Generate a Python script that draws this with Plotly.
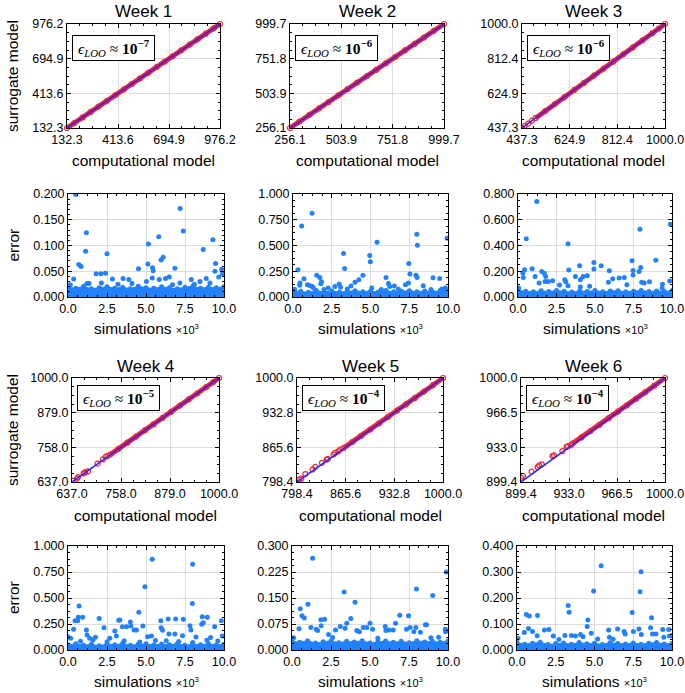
import plotly.graph_objects as go

W, H = 685, 693

# ---------------- data ----------------
weeks = ["Week 1", "Week 2", "Week 3", "Week 4", "Week 5", "Week 6"]
eps_exponents = ["−7", "−6", "−6", "−5", "−4", "−4"]

model_ticks_w1 = ["132.3", "413.6", "694.9", "976.2"]
model_ticks_w2 = ["256.1", "503.9", "751.8", "999.7"]
model_ticks_w3 = ["437.3", "624.9", "812.4", "1000.0"]
model_ticks_w4 = ["637.0", "758.0", "879.0", "1000.0"]
model_ticks_w5 = ["798.4", "865.6", "932.8", "1000.0"]
model_ticks_w6 = ["899.4", "933.0", "966.5", "1000.0"]

# dense part of computational vs surrogate model values
comp_dense_w1 = [132.3, 171.5, 218.0, 262.4, 305.9, 351.2, 398.7, 446.0, 489.3, 533.8, 580.5, 627.1, 671.9, 716.4, 762.0, 808.6, 851.3, 897.5, 940.8, 976.2]
surr_dense_w1 = [132.3, 171.6, 217.9, 262.4, 306.0, 351.1, 398.7, 446.1, 489.3, 533.7, 580.5, 627.2, 671.9, 716.3, 762.0, 808.6, 851.4, 897.5, 940.7, 976.2]
comp_dense_w2 = [256.1, 301.4, 349.7, 396.2, 441.8, 489.5, 534.0, 580.6, 627.3, 672.8, 719.1, 764.5, 811.0, 857.6, 903.2, 950.7, 999.7]
surr_dense_w2 = [256.1, 301.5, 349.6, 396.2, 441.9, 489.4, 534.0, 580.7, 627.3, 672.7, 719.1, 764.6, 811.0, 857.5, 903.2, 950.8, 999.7]
comp_dense_w3 = [490.2, 528.6, 566.4, 604.9, 643.0, 681.7, 720.3, 758.5, 796.8, 835.4, 873.2, 911.9, 950.1, 975.6, 1000.0]
surr_dense_w3 = [490.5, 528.4, 566.6, 604.8, 643.1, 681.6, 720.4, 758.5, 796.7, 835.5, 873.2, 911.8, 950.2, 975.6, 1000.0]
comp_dense_w4 = [731.4, 752.0, 773.5, 795.1, 816.8, 838.2, 860.4, 881.9, 903.6, 925.0, 946.8, 968.1, 985.5, 1000.0]
surr_dense_w4 = [732.6, 752.9, 774.1, 795.6, 817.2, 838.5, 860.6, 882.0, 903.7, 925.1, 946.8, 968.1, 985.5, 1000.0]
comp_dense_w5 = [862.5, 874.8, 887.0, 899.6, 911.8, 924.3, 936.5, 948.9, 961.2, 973.6, 986.0, 1000.0]
surr_dense_w5 = [864.0, 875.9, 887.8, 900.2, 912.2, 924.6, 936.7, 949.0, 961.3, 973.7, 986.0, 1000.0]
comp_dense_w6 = [935.3, 941.6, 948.0, 954.3, 960.7, 967.1, 973.4, 979.8, 986.2, 992.5, 1000.0]
surr_dense_w6 = [936.5, 942.5, 948.7, 954.8, 961.1, 967.4, 973.6, 979.9, 986.3, 992.5, 1000.0]

# sparse (isolated) points at the low end
comp_sparse_w1 = []
surr_sparse_w1 = []
comp_sparse_w2 = []
surr_sparse_w2 = []
comp_sparse_w3 = [437.3, 447.5, 462.0, 476.8]
surr_sparse_w3 = [437.9, 448.6, 461.4, 477.5]
comp_sparse_w4 = [639.5, 649.3, 651.8, 665.7, 669.8, 676.4, 700.2, 713.4, 720.0, 725.0]
surr_sparse_w4 = [641.2, 648.9, 653.9, 667.4, 671.5, 673.8, 701.0, 716.0, 724.6, 728.3]
comp_sparse_w5 = [801.6, 804.4, 809.9, 819.9, 823.6, 832.8, 839.6, 841.0, 848.8, 851.0, 855.6, 858.0]
surr_sparse_w5 = [803.5, 804.8, 813.8, 822.7, 827.8, 835.5, 841.9, 843.2, 851.5, 854.7, 857.9, 861.1]
comp_sparse_w6 = [899.4, 900.8, 906.8, 911.0, 912.1, 914.0, 921.4, 922.5, 928.3, 931.3, 932.2, 934.1]
surr_sparse_w6 = [903.6, 905.2, 909.4, 913.9, 915.5, 916.4, 924.5, 925.1, 929.3, 933.5, 934.1, 934.8]

# error plots: y tick labels, x tick labels (simulations x 10^3)
err_ticks_w1 = ["0.000", "0.050", "0.100", "0.150", "0.200"]
err_ticks_w2 = ["0.000", "0.250", "0.500", "0.750", "1.000"]
err_ticks_w3 = ["0.000", "0.200", "0.400", "0.600", "0.800"]
err_ticks_w4 = ["0.000", "0.250", "0.500", "0.750", "1.000"]
err_ticks_w5 = ["0.000", "0.075", "0.150", "0.225", "0.300"]
err_ticks_w6 = ["0.000", "0.100", "0.200", "0.300", "0.400"]
sim_ticks = ["0.0", "2.5", "5.0", "7.5", "10.0"]

# upper envelope of the dense low-error band, read at these simulation counts (x 10^3)
band_x = [0.0, 0.5, 1.0, 1.5, 2.0, 2.5, 3.0, 3.5, 4.0, 4.5, 5.0, 5.5, 6.0, 6.5, 7.0, 7.5, 8.0, 8.5, 9.0, 9.5, 10.0]
band_top_w1 = [0.019, 0.017, 0.021, 0.016, 0.018, 0.020, 0.017, 0.019, 0.016, 0.021, 0.018, 0.017, 0.020, 0.018, 0.016, 0.019, 0.021, 0.017, 0.019, 0.018, 0.020]
band_top_w2 = [0.060, 0.055, 0.045, 0.062, 0.050, 0.058, 0.047, 0.055, 0.060, 0.052, 0.057, 0.048, 0.062, 0.050, 0.056, 0.060, 0.052, 0.058, 0.050, 0.062, 0.065]
band_top_w3 = [0.050, 0.045, 0.040, 0.048, 0.042, 0.050, 0.044, 0.038, 0.047, 0.043, 0.050, 0.041, 0.046, 0.049, 0.040, 0.045, 0.050, 0.043, 0.047, 0.042, 0.050]
band_top_w4 = [0.050, 0.060, 0.045, 0.055, 0.040, 0.058, 0.050, 0.062, 0.045, 0.055, 0.060, 0.048, 0.057, 0.050, 0.060, 0.045, 0.055, 0.050, 0.060, 0.048, 0.055]
band_top_w5 = [0.025, 0.022, 0.027, 0.020, 0.024, 0.026, 0.021, 0.025, 0.023, 0.027, 0.020, 0.024, 0.026, 0.022, 0.025, 0.021, 0.027, 0.023, 0.025, 0.022, 0.026]
band_top_w6 = [0.028, 0.022, 0.026, 0.030, 0.021, 0.025, 0.027, 0.022, 0.029, 0.024, 0.026, 0.021, 0.028, 0.025, 0.023, 0.027, 0.022, 0.026, 0.029, 0.023, 0.025]

# individual larger errors (x in 10^3 simulations)
err_x_w1 = [0.49, 0.36, 0.69, 0.84, 1.13, 1.18, 1.22, 1.35, 1.80, 2.10, 2.40, 2.50, 2.14, 2.85, 3.53, 3.90, 4.52, 5.12, 5.16, 5.03, 5.42, 5.46, 5.40, 5.82, 5.85, 5.97, 6.10, 6.25, 6.49, 6.85, 7.19, 7.39, 7.90, 8.67, 8.86, 9.29, 9.46, 9.42, 9.66, 9.85, 9.90, 8.46, 7.17, 0.15, 3.2, 4.1, 6.7, 8.1, 9.1]
err_y_w1 = [0.199, 0.035, 0.063, 0.059, 0.089, 0.125, 0.026, 0.026, 0.045, 0.045, 0.046, 0.084, 0.027, 0.035, 0.036, 0.034, 0.055, 0.064, 0.103, 0.030, 0.057, 0.051, 0.037, 0.117, 0.034, 0.072, 0.077, 0.036, 0.039, 0.056, 0.172, 0.128, 0.034, 0.092, 0.036, 0.111, 0.065, 0.050, 0.039, 0.054, 0.045, 0.030, 0.027, 0.024, 0.025, 0.026, 0.024, 0.025, 0.027]
err_x_w2 = [0.32, 0.43, 0.45, 0.56, 0.71, 0.93, 1.10, 1.23, 1.25, 1.32, 1.53, 1.73, 1.84, 1.79, 2.27, 2.70, 2.98, 3.07, 3.26, 3.33, 3.74, 4.00, 4.25, 4.51, 4.95, 4.99, 5.42, 5.08, 6.00, 6.16, 6.24, 6.54, 7.26, 7.47, 7.54, 7.45, 7.93, 8.01, 7.99, 8.03, 8.40, 9.03, 9.46, 9.94, 9.83, 0.1, 2.0, 3.5, 5.7, 6.8, 8.9, 9.6]
err_y_w2 = [0.265, 0.113, 0.135, 0.690, 0.177, 0.119, 0.110, 0.813, 0.103, 0.087, 0.210, 0.190, 0.148, 0.129, 0.087, 0.103, 0.126, 0.094, 0.423, 0.277, 0.106, 0.142, 0.168, 0.210, 0.403, 0.342, 0.532, 0.087, 0.190, 0.132, 0.103, 0.106, 0.119, 0.326, 0.223, 0.135, 0.210, 0.190, 0.610, 0.503, 0.110, 0.187, 0.180, 0.571, 0.087, 0.075, 0.072, 0.078, 0.074, 0.076, 0.073, 0.077]
err_x_w3 = [0.04, 0.32, 0.34, 0.43, 0.54, 0.92, 1.11, 1.22, 1.37, 1.54, 1.71, 1.80, 1.76, 1.97, 2.25, 2.70, 3.04, 3.10, 3.25, 3.30, 3.25, 3.73, 4.00, 4.05, 4.22, 4.50, 4.05, 4.65, 4.93, 4.93, 5.40, 5.93, 5.87, 6.15, 6.57, 6.90, 7.07, 7.41, 7.47, 7.47, 7.86, 7.97, 7.92, 8.03, 8.20, 8.54, 8.95, 9.38, 9.36, 9.85, 9.90]
err_y_w3 = [0.070, 0.186, 0.152, 0.212, 0.452, 0.219, 0.160, 0.741, 0.108, 0.199, 0.183, 0.160, 0.121, 0.121, 0.126, 0.093, 0.134, 0.119, 0.413, 0.209, 0.088, 0.160, 0.243, 0.134, 0.160, 0.165, 0.077, 0.083, 0.268, 0.217, 0.243, 0.204, 0.114, 0.142, 0.147, 0.152, 0.095, 0.281, 0.206, 0.170, 0.199, 0.230, 0.526, 0.114, 0.108, 0.119, 0.286, 0.100, 0.067, 0.124, 0.565]
err_x_w4 = [0.00, 0.17, 0.36, 0.45, 0.62, 0.71, 0.66, 0.94, 1.18, 1.22, 1.39, 1.76, 2.00, 2.31, 2.68, 3.00, 3.10, 3.25, 3.32, 3.49, 3.75, 4.00, 4.03, 4.24, 4.39, 4.54, 4.80, 4.93, 5.10, 5.40, 5.35, 5.95, 5.97, 6.06, 6.42, 6.47, 6.90, 6.85, 7.39, 7.34, 7.82, 7.88, 7.97, 7.99, 8.57, 8.61, 8.67, 8.93, 9.14, 9.40, 9.83, 9.89, 8.20, 7.99, 0.8, 1.6, 2.5, 3.6, 4.6, 5.6, 6.3, 7.1, 8.9, 9.6]
err_y_w4 = [0.128, 0.112, 0.200, 0.282, 0.282, 0.423, 0.314, 0.314, 0.192, 0.144, 0.112, 0.122, 0.304, 0.215, 0.112, 0.183, 0.135, 0.285, 0.288, 0.224, 0.224, 0.269, 0.231, 0.192, 0.192, 0.362, 0.231, 0.609, 0.128, 0.872, 0.135, 0.282, 0.215, 0.189, 0.298, 0.154, 0.298, 0.154, 0.295, 0.138, 0.234, 0.192, 0.446, 0.824, 0.247, 0.320, 0.263, 0.314, 0.119, 0.224, 0.282, 0.135, 0.125, 0.071, 0.085, 0.095, 0.080, 0.090, 0.078, 0.092, 0.088, 0.082, 0.094, 0.086]
err_x_w5 = [0.45, 0.53, 0.64, 0.79, 1.02, 1.21, 1.32, 1.55, 1.64, 1.85, 2.09, 1.87, 2.34, 2.79, 3.09, 3.34, 3.40, 3.51, 3.77, 4.04, 4.15, 4.32, 4.57, 4.79, 5.00, 5.17, 5.98, 6.02, 6.23, 6.49, 6.64, 6.91, 7.34, 7.47, 7.57, 7.81, 7.98, 7.94, 8.23, 8.55, 8.62, 9.02, 9.40, 9.83, 9.85, 9.89, 0.1, 2.6, 5.5, 8.9]
err_y_w5 = [0.061, 0.119, 0.099, 0.092, 0.132, 0.065, 0.265, 0.060, 0.056, 0.087, 0.089, 0.070, 0.045, 0.058, 0.068, 0.167, 0.063, 0.077, 0.091, 0.138, 0.056, 0.053, 0.065, 0.065, 0.077, 0.060, 0.068, 0.056, 0.058, 0.058, 0.077, 0.100, 0.060, 0.099, 0.065, 0.053, 0.176, 0.065, 0.051, 0.073, 0.073, 0.157, 0.037, 0.060, 0.053, 0.225, 0.035, 0.036, 0.034, 0.035]
err_x_w6 = [0.06, 0.47, 0.60, 0.74, 0.79, 1.00, 1.32, 1.30, 1.77, 2.06, 2.34, 3.09, 3.30, 3.36, 3.51, 3.77, 4.10, 4.26, 4.53, 4.57, 4.79, 4.94, 5.43, 5.91, 5.96, 6.49, 6.91, 6.98, 7.43, 7.51, 7.87, 7.94, 8.00, 8.02, 8.62, 8.68, 8.74, 8.96, 9.40, 9.47, 9.79, 9.83, 2.7, 5.2, 6.2, 9.95]
err_y_w6 = [0.045, 0.067, 0.137, 0.083, 0.131, 0.071, 0.133, 0.055, 0.077, 0.079, 0.054, 0.056, 0.171, 0.145, 0.056, 0.054, 0.060, 0.051, 0.090, 0.115, 0.064, 0.227, 0.324, 0.077, 0.049, 0.081, 0.071, 0.062, 0.144, 0.071, 0.081, 0.224, 0.301, 0.060, 0.086, 0.124, 0.062, 0.062, 0.079, 0.049, 0.079, 0.054, 0.040, 0.042, 0.041, 0.055]

model_ticks = [model_ticks_w1, model_ticks_w2, model_ticks_w3, model_ticks_w4, model_ticks_w5, model_ticks_w6]
comp_dense = [comp_dense_w1, comp_dense_w2, comp_dense_w3, comp_dense_w4, comp_dense_w5, comp_dense_w6]
surr_dense = [surr_dense_w1, surr_dense_w2, surr_dense_w3, surr_dense_w4, surr_dense_w5, surr_dense_w6]
comp_sparse = [comp_sparse_w1, comp_sparse_w2, comp_sparse_w3, comp_sparse_w4, comp_sparse_w5, comp_sparse_w6]
surr_sparse = [surr_sparse_w1, surr_sparse_w2, surr_sparse_w3, surr_sparse_w4, surr_sparse_w5, surr_sparse_w6]
err_ticks = [err_ticks_w1, err_ticks_w2, err_ticks_w3, err_ticks_w4, err_ticks_w5, err_ticks_w6]
band_top = [band_top_w1, band_top_w2, band_top_w3, band_top_w4, band_top_w5, band_top_w6]
err_x = [err_x_w1, err_x_w2, err_x_w3, err_x_w4, err_x_w5, err_x_w6]
err_y = [err_y_w1, err_y_w2, err_y_w3, err_y_w4, err_y_w5, err_y_w6]

# ---------------- layout (pixel boxes: left, right, top, bottom) ----------------
scatter_boxes = [(67, 220, 24, 128), (290, 444, 24, 128), (522, 665, 24, 128),
                 (72, 219, 378, 482), (297, 443, 378, 482), (521, 665, 378, 482)]
error_boxes = [(68, 224, 194, 297), (293, 448, 194, 297), (518, 672, 194, 297),
               (68, 224, 546, 650), (292, 448, 546, 650), (517, 672, 546, 650)]
eps_offsets = [11, 11, 11, 7, 7, 7]
minor_div_model = 4
minor_div_err = [5, 4, 4, 4, 4, 5]

RED = "rgb(255,28,45)"
BLUE_LINE = "rgb(25,45,255)"
DOT = "#2181ff"
FONT = "Liberation Sans"
SERIF = "Liberation Serif"
NB = "\u00a0"


def minor_vals(vals, n):
    out = []
    for a, b in zip(vals[:-1], vals[1:]):
        for j in range(1, n):
            out.append(a + (b - a) * j / n)
    return out


def axis_style(domain, vals, labels, n_minor, anchor):
    return dict(
        domain=domain, anchor=anchor, range=[vals[0], vals[-1]], automargin=False,
        tickmode="array", tickvals=vals, ticktext=labels, ticklabeloverflow="allow",
        showline=True, linecolor="black", linewidth=1, mirror="allticks",
        ticks="inside", ticklen=4, tickwidth=1, tickcolor="black",
        showgrid=True, gridcolor="#dcdcdc", gridwidth=1, zeroline=False,
        tickfont=dict(family=FONT, size=12.5, color="black"),
        minor=dict(ticks="inside", ticklen=2, tickwidth=0.8, tickcolor="black",
                   tickmode="array", tickvals=minor_vals(vals, n_minor), showgrid=False),
    )


fig = go.Figure()
layout = {}
annotations = []


def axname(k, a):
    return a + "axis" + ("" if k == 1 else str(k))


def ref(k, a):
    return a + ("" if k == 1 else str(k))


for i in range(6):
    # ---- model comparison panel ----
    k = i + 1
    l, r, t, b = scatter_boxes[i]
    xd = [l / W, r / W]
    yd = [1 - b / H, 1 - t / H]
    vals = [float(v) for v in model_ticks[i]]
    layout[axname(k, "x")] = axis_style(xd, vals, model_ticks[i], minor_div_model, ref(k, "y"))
    layout[axname(k, "y")] = axis_style(yd, vals, model_ticks[i], minor_div_model, ref(k, "x"))
    if comp_sparse[i]:
        fig.add_trace(go.Scatter(x=comp_sparse[i], y=surr_sparse[i], mode="markers",
                                 xaxis=ref(k, "x"), yaxis=ref(k, "y"), showlegend=False,
                                 marker=dict(symbol="circle-open", size=5, color=RED, line=dict(width=1.2))))
    fig.add_trace(go.Scatter(x=comp_dense[i], y=surr_dense[i], mode="lines+markers",
                             xaxis=ref(k, "x"), yaxis=ref(k, "y"), showlegend=False, cliponaxis=False,
                             line=dict(color=RED, width=5),
                             marker=dict(symbol="circle-open", size=5, color=RED, line=dict(width=1.2))))
    fig.add_trace(go.Scatter(x=[vals[0], vals[-1]], y=[vals[0], vals[-1]], mode="lines",
                             xaxis=ref(k, "x"), yaxis=ref(k, "y"), showlegend=False,
                             line=dict(color=BLUE_LINE, width=1.5)))
    cx = (l + r) / 2
    annotations.append(dict(text=weeks[i], x=cx / W, y=1 - (t - 12) / H, xref="paper", yref="paper",
                            xanchor="center", yanchor="middle", showarrow=False,
                            font=dict(family=FONT, size=17, color="black")))
    annotations.append(dict(text="computational model", x=cx / W, y=1 - (b + 33) / H, xref="paper", yref="paper",
                            xanchor="center", yanchor="middle", showarrow=False,
                            font=dict(family=FONT, size=15.5, color="black")))
    annotations.append(dict(text=NB + "<i>ϵ</i><sub><i>LOO</i></sub> ≈ <b>10</b><sup><b>" + eps_exponents[i] + "</b></sup>" + NB,
                            x=(l + 5) / W, y=1 - (t + eps_offsets[i]) / H, xref="paper", yref="paper",
                            xanchor="left", yanchor="top", showarrow=False,
                            bordercolor="black", borderwidth=1, borderpad=1, bgcolor="white",
                            font=dict(family=SERIF, size=15.5, color="black")))
    if i % 3 == 0:
        annotations.append(dict(text="surrogate model", x=12 / W, y=1 - (t + b) / 2 / H, xref="paper", yref="paper",
                                xanchor="center", yanchor="middle", showarrow=False, textangle=-90,
                                font=dict(family=FONT, size=15.5, color="black")))

    # ---- error panel ----
    k = i + 7
    l, r, t, b = error_boxes[i]
    xd = [l / W, r / W]
    yd = [1 - b / H, 1 - t / H]
    xv = [float(v) for v in sim_ticks]
    yv = [float(v) for v in err_ticks[i]]
    layout[axname(k, "x")] = axis_style(xd, xv, sim_ticks, 4, ref(k, "y"))
    layout[axname(k, "y")] = axis_style(yd, yv, err_ticks[i], minor_div_err[i], ref(k, "x"))
    fig.add_trace(go.Scatter(x=band_x, y=band_top[i], mode="lines+markers", fill="tozeroy",
                             fillcolor=DOT, xaxis=ref(k, "x"), yaxis=ref(k, "y"), showlegend=False,
                             line=dict(color=DOT, width=1), marker=dict(color=DOT, size=5)))
    fig.add_trace(go.Scatter(x=err_x[i], y=err_y[i], mode="markers",
                             xaxis=ref(k, "x"), yaxis=ref(k, "y"), showlegend=False,
                             marker=dict(color=DOT, size=5)))
    cx = (l + r) / 2
    annotations.append(dict(text="simulations <span style='font-size:11px'>×10<sup>3</sup></span>",
                            x=cx / W, y=1 - (b + 31) / H, xref="paper", yref="paper",
                            xanchor="center", yanchor="middle", showarrow=False,
                            font=dict(family=FONT, size=15.5, color="black")))
    if i % 3 == 0:
        annotations.append(dict(text="error", x=13 / W, y=1 - (t + b) / 2 / H, xref="paper", yref="paper",
                                xanchor="center", yanchor="middle", showarrow=False, textangle=-90,
                                font=dict(family=FONT, size=15.5, color="black")))

fig.update_layout(
    template="none",
    width=W, height=H, margin=dict(l=0, r=0, t=0, b=0, pad=0), autosize=False,
    paper_bgcolor="white", plot_bgcolor="white", showlegend=False,
    annotations=annotations, **layout,
)

fig.write_html("out.html", config={"displayModeBar": False},
               post_script="document.body.style.margin='0';document.body.style.overflow='hidden';")
